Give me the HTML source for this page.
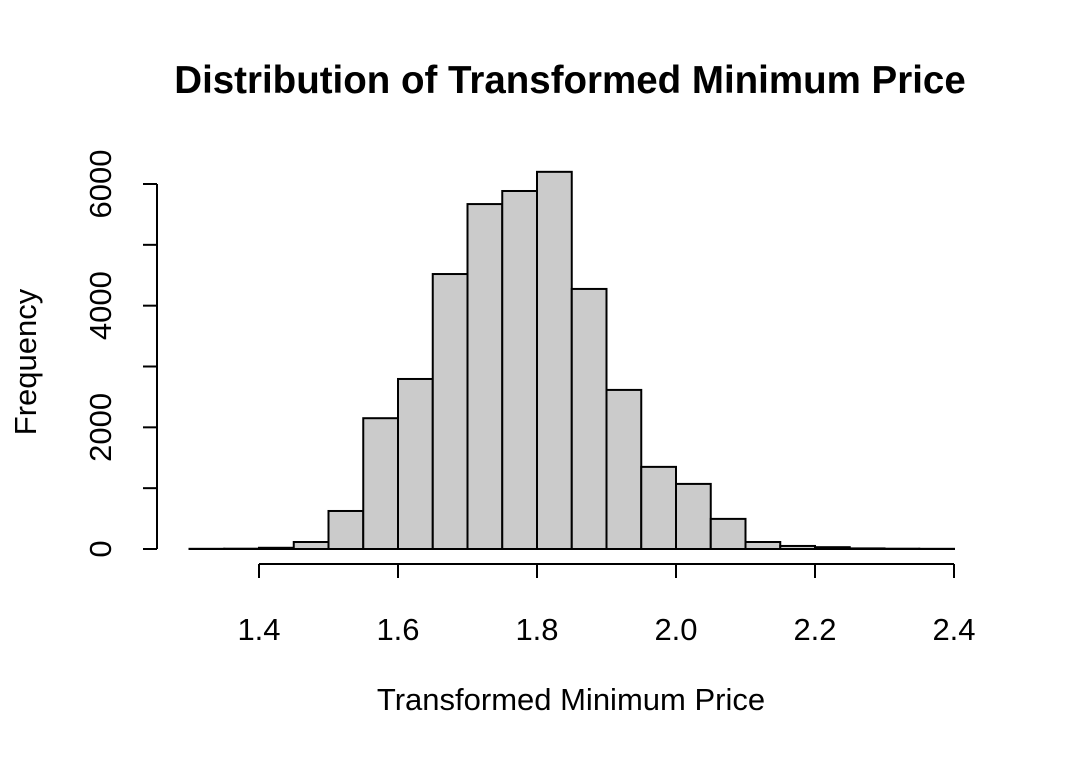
<!DOCTYPE html>
<html><head><meta charset="utf-8"><style>
body{margin:0;background:#fff}
svg text{font-family:"Liberation Sans",sans-serif;fill:#000}
</style></head><body>
<svg width="1066" height="760" id="c">
<text x="570" y="93" text-anchor="middle" font-size="38.5" font-weight="bold">Distribution of Transformed Minimum Price</text>
<text x="571" y="710" text-anchor="middle" font-size="31">Transformed Minimum Price</text>
<text transform="translate(36,362) rotate(-90)" text-anchor="middle" font-size="31">Frequency</text>
<g id="bars"></g><g id="xaxis"></g><g id="yaxis"></g>
</svg>
<script>
const binStarts=[1.30,1.35,1.40,1.45,1.50,1.55,1.60,1.65,1.70,1.75,1.80,1.85,1.90,1.95,2.00,2.05,2.10,2.15,2.20,2.25,2.30,2.35];
const counts=[3,5,20,115,625,2150,2795,4520,5670,5885,6200,4275,2615,1350,1070,495,115,50,30,10,5,3];
const binWidth=0.05;
const xTicks=["1.4","1.6","1.8","2.0","2.2","2.4"];
const yTicks=[0,1000,2000,3000,4000,5000,6000];
const yLabels=["0","2000","4000","6000"];
const NS="http://www.w3.org/2000/svg";
const X=v=>259+(v-1.4)*695;
const Y=v=>549-v*365/6000;
function mk(t,a,p){const e=document.createElementNS(NS,t);for(const k in a)e.setAttribute(k,a[k]);p.appendChild(e);return e;}
const bars=document.getElementById('bars');
binStarts.forEach((s,i)=>{
 const x0=X(s),x1=X(s+binWidth),y=Y(counts[i]);
 const r=mk('rect',{x:x0,y:y,width:x1-x0,height:549-y,fill:'#cbcbcb',stroke:'#000','stroke-width':2},bars);
 
 
});
const xa=document.getElementById('xaxis');
mk('line',{x1:X(1.4),x2:X(2.4),y1:564,y2:564,stroke:'#000','stroke-width':2},xa);
xTicks.forEach(t=>{const x=X(+t);
 mk('line',{x1:x,x2:x,y1:564,y2:578,stroke:'#000','stroke-width':2},xa);
 const e=mk('text',{x:x,y:640,'text-anchor':'middle','font-size':31},xa);e.textContent=t;
 
 
});
const ya=document.getElementById('yaxis');
mk('line',{x1:157,x2:157,y1:Y(0),y2:Y(6000),stroke:'#000','stroke-width':2},ya);
yTicks.forEach(v=>mk('line',{x1:143,x2:157,y1:Y(v),y2:Y(v),stroke:'#000','stroke-width':2},ya));
yLabels.forEach(t=>{const y=Y(+t);
 const e=mk('text',{transform:`translate(111,${y}) rotate(-90)`,'text-anchor':'middle','font-size':31},ya);e.textContent=t;
 
 
});
</script>
</body></html>
